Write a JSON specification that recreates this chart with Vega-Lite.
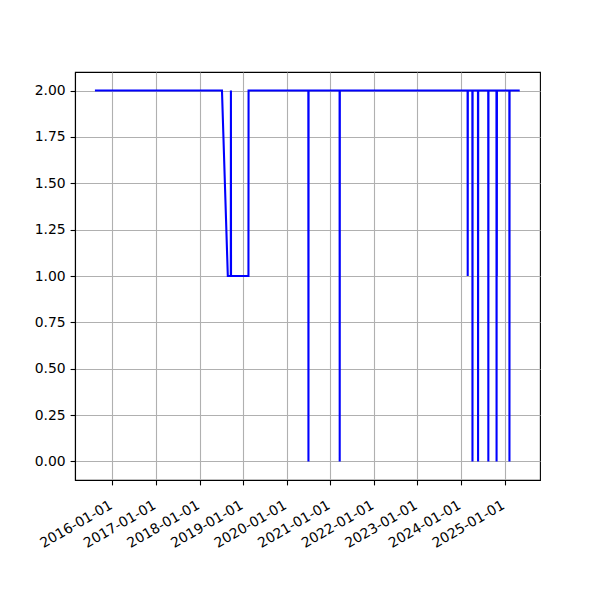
{
  "$schema": "https://vega.github.io/schema/vega-lite/v6.json",
  "autosize": {"type": "none"},
  "padding": {"left": 75, "top": 72, "right": 60, "bottom": 120},
  "width": 465,
  "height": 408,
  "background": "white",
  "config": {
    "view": {"stroke": "black", "strokeWidth": 1.1},
    "axis": {
      "labelFont": "DejaVu Sans",
      "labelFontSize": 13.9,
      "labelColor": "black",
      "domainColor": "black",
      "domainWidth": 1.1,
      "tickColor": "black",
      "tickWidth": 1.1,
      "tickSize": 4.9,
      "labelPadding": 4.9,
      "gridColor": "#b0b0b0",
      "gridWidth": 1.1,
      "gridOpacity": 1,
      "title": null
    }
  },
  "data": {
    "values": [
      {"date": "2015-08-08", "value": 2},
      {"date": "2018-07-08", "value": 2},
      {"date": "2018-08-26", "value": 1},
      {"date": "2018-09-20", "value": 1},
      {"date": "2018-09-21", "value": 2},
      {"date": "2018-09-22", "value": 1},
      {"date": "2019-02-15", "value": 1},
      {"date": "2019-02-16", "value": 2},
      {"date": "2020-07-01", "value": 2},
      {"date": "2020-07-02", "value": 0},
      {"date": "2020-07-03", "value": 2},
      {"date": "2021-03-20", "value": 2},
      {"date": "2021-03-21", "value": 0},
      {"date": "2021-03-22", "value": 2},
      {"date": "2024-02-26", "value": 2},
      {"date": "2024-02-27", "value": 1},
      {"date": "2024-02-28", "value": 2},
      {"date": "2024-04-06", "value": 2},
      {"date": "2024-04-07", "value": 0},
      {"date": "2024-04-08", "value": 2},
      {"date": "2024-05-23", "value": 2},
      {"date": "2024-05-24", "value": 0},
      {"date": "2024-05-25", "value": 2},
      {"date": "2024-08-17", "value": 2},
      {"date": "2024-08-18", "value": 0},
      {"date": "2024-08-19", "value": 2},
      {"date": "2024-10-25", "value": 2},
      {"date": "2024-10-26", "value": 0},
      {"date": "2024-10-27", "value": 2},
      {"date": "2024-10-28", "value": 1},
      {"date": "2024-10-29", "value": 2},
      {"date": "2025-02-10", "value": 2},
      {"date": "2025-02-11", "value": 0},
      {"date": "2025-02-12", "value": 2},
      {"date": "2025-05-08", "value": 2}
    ]
  },
  "mark": {"type": "line", "color": "#0000ff", "strokeWidth": 2.08, "clip": true},
  "encoding": {
    "x": {
      "field": "date",
      "type": "temporal",
      "scale": {
        "domain": [
          {"year": 2015, "month": 2, "date": 22},
          {"year": 2025, "month": 10, "date": 25}
        ],
        "nice": false
      },
      "axis": {
        "values": [
          {"year": 2016, "month": 1, "date": 1},
          {"year": 2017, "month": 1, "date": 1},
          {"year": 2018, "month": 1, "date": 1},
          {"year": 2019, "month": 1, "date": 1},
          {"year": 2020, "month": 1, "date": 1},
          {"year": 2021, "month": 1, "date": 1},
          {"year": 2022, "month": 1, "date": 1},
          {"year": 2023, "month": 1, "date": 1},
          {"year": 2024, "month": 1, "date": 1},
          {"year": 2025, "month": 1, "date": 1}
        ],
        "format": "%Y-%m-%d",
        "labelAngle": -30,
        "labelAlign": "right",
        "labelBaseline": "top",
        "labelOffset": -5,
        "labelPadding": 13,
        "labelOverlap": false,
        "grid": true
      }
    },
    "y": {
      "field": "value",
      "type": "quantitative",
      "scale": {"domain": [-0.1, 2.1], "nice": false, "zero": false},
      "axis": {
        "values": [0, 0.25, 0.5, 0.75, 1, 1.25, 1.5, 1.75, 2],
        "format": ".2f",
        "grid": true
      }
    }
  }
}
